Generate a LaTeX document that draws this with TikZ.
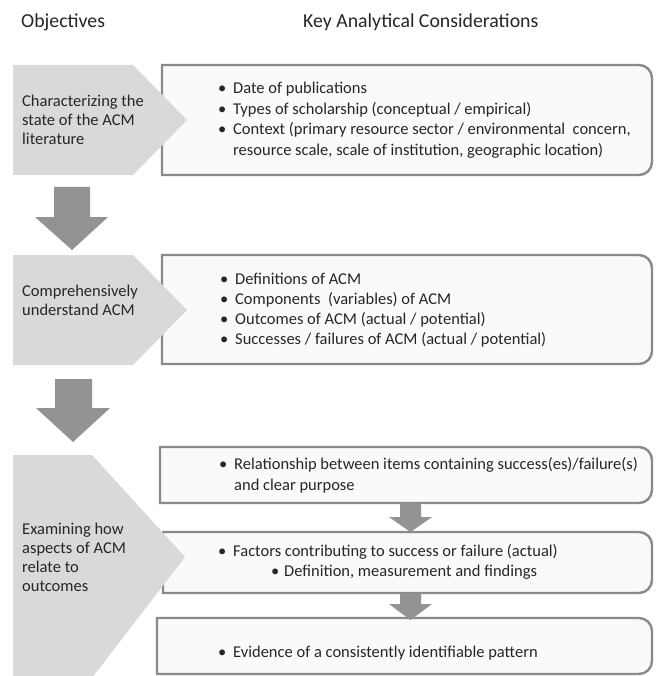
\documentclass[tikz,border=0pt]{standalone}
\usepackage{fontspec}
\setmainfont{Carlito}
\definecolor{chev}{HTML}{D9D9D9}
\definecolor{arr}{HTML}{939393}
\definecolor{bord}{HTML}{8A8A8A}
\definecolor{boxfill}{HTML}{FAFAFA}
\definecolor{txt}{HTML}{262626}
\newcommand\bl{\makebox[15pt][l]{\textbullet}}
\newcommand\kbox[4]{\filldraw[keybox] (#1,#2) -- ({(#1+#3)/2},#2) [rounded corners=13pt] -- (#3,#2) -- (#3,#4) -- ({(#1+#3)/2},#4) [sharp corners] -- (#1,#4) -- cycle;}
\tikzset{
  chevron/.style={fill=chev, draw=none},
  blockarrow/.style={fill=arr, draw=none},
  keybox/.style={draw=bord, fill=boxfill, line width=2.4pt},
  bodytext/.style={font=\fontsize{16.5}{20.5}\selectfont, text=txt, inner sep=0pt, anchor=base west},
  lefttext/.style={font=\fontsize{16.5}{19}\selectfont, text=txt, inner sep=0pt, anchor=base west},
  headtext/.style={font=\fontsize{19.8}{24}\selectfont, text=txt, inner sep=0pt, anchor=base west},
}
\begin{document}
\begin{tikzpicture}[x=1pt,y=-1pt]
\useasboundingbox (0,0) rectangle (658,676);
\clip (0,0) rectangle (658,676);
\fill[white] (0,0) rectangle (658,676);

% headers
\node[headtext] (h1) at (21,28) {Objectives};
\node[headtext] (h2) at (303,28) {Key Analytical Considerations};

% boxes
\kbox{162}{65}{652}{175}
\kbox{162}{255}{652}{364}
\kbox{160}{447}{652}{503}
\kbox{163}{532}{652}{593}
\kbox{157}{618}{652}{674}

% chevrons
\fill[chevron] (13,65) -- (133,65) -- (187,120) -- (133,175) -- (13,175) -- cycle;
\fill[chevron] (13,255) -- (133,255) -- (187,310) -- (133,365) -- (13,365) -- cycle;
\fill[chevron] (13,455) -- (92,455) -- (185,557) -- (78,696) -- (13,696) -- cycle;

% block arrows
\fill[blockarrow] (54,187) -- (90,187) -- (90,217) -- (108,217) -- (72,250) -- (35,217) -- (54,217) -- cycle;
\fill[blockarrow] (55,379) -- (92,379) -- (92,408) -- (110,408) -- (73,442) -- (36,408) -- (55,408) -- cycle;
\fill[blockarrow] (400,503) -- (421,503) -- (421,517) -- (432,517) -- (410.5,532) -- (389,517) -- (400,517) -- cycle;
\fill[blockarrow] (400,593) -- (421,593) -- (421,604) -- (432,604) -- (410.5,620) -- (389,604) -- (400,604) -- cycle;

% objective texts
\node[lefttext] (o1) at (22,107) {\parbox[t]{150pt}{Characterizing the\\state of the ACM\\literature}};
\node[lefttext] (o2) at (22,296) {\parbox[t]{150pt}{Comprehensively\\understand ACM}};
\node[lefttext] (o3) at (22,534) {\parbox[t]{150pt}{Examining how\\aspects of ACM\\relate to\\outcomes}};

% consideration texts
\node[bodytext] (k1) at (218,94) {\parbox[t]{470pt}{\bl Date of publications\\
\bl Types of scholarship (conceptual / empirical)\\
\bl Context (primary resource sector / environmental\ \ concern,\\
\hspace*{15pt}resource scale, scale of institution, geographic location)}};
\node[bodytext, font=\fontsize{16.5}{20}\selectfont] (k2) at (220,284) {\parbox[t]{470pt}{\bl Definitions of ACM\\
\bl Components\ \ (variables) of ACM\\
\bl Outcomes of ACM (actual / potential)\\
\bl Successes / failures of ACM (actual / potential)}};
\node[bodytext, font=\fontsize{16.5}{21}\selectfont] (k3a) at (219,469) {\parbox[t]{470pt}{\bl Relationship between items containing success(es)/failure(s)\\
\hspace*{15pt}and clear purpose}};
\node[bodytext] (k3b) at (218,556) {\parbox[t]{470pt}{\bl Factors contributing to success or failure (actual)\\
\hspace*{53pt}\makebox[13pt][l]{\textbullet}Definition, measurement and findings}};
\node[bodytext] (k3c) at (218,657) {\bl Evidence of a consistently identifiable pattern};
\end{tikzpicture}
\end{document}
